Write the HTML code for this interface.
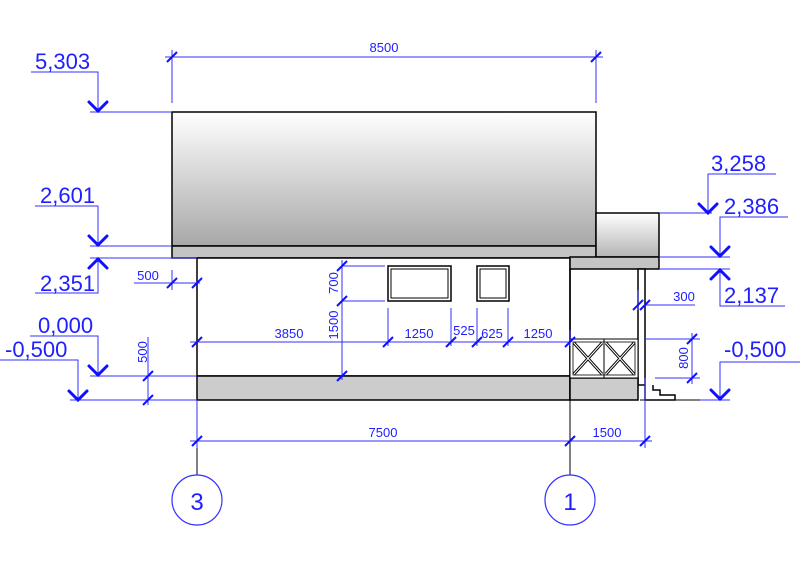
<!DOCTYPE html>
<html><head><meta charset="utf-8"><style>
html,body{margin:0;padding:0;background:#fff;}
svg{display:block;font-family:"Liberation Sans",sans-serif;}
</style></head><body>
<svg width="800" height="565" viewBox="0 0 800 565" xmlns="http://www.w3.org/2000/svg">
<defs>
<linearGradient id="g" x1="0" y1="0" x2="0" y2="1">
<stop offset="0" stop-color="#ffffff"/><stop offset="1" stop-color="#a8a8a8"/>
</linearGradient>
<linearGradient id="g2" x1="0" y1="0" x2="0" y2="1">
<stop offset="0" stop-color="#ffffff"/><stop offset="1" stop-color="#b4b4b4"/>
</linearGradient>
</defs>
<g stroke="#000" stroke-width="1.5">
<rect x="172" y="112" width="424" height="134" fill="url(#g)"/>
<rect x="172" y="246" width="424" height="12" fill="#c4c4c4"/>
<rect x="197" y="258" width="373" height="118" fill="#fff"/>
<rect x="197" y="376" width="373" height="24" fill="#cccccc"/>
<rect x="596" y="213" width="63" height="44" fill="url(#g2)"/>
<rect x="570" y="257" width="89" height="12" fill="#c4c4c4"/>
<line x1="570" y1="269" x2="570" y2="400"/>
<rect x="638" y="269" width="7" height="116" fill="#fff"/>
<rect x="570" y="378" width="68" height="22" fill="#cccccc"/>
<polyline points="645,385 645,400 675,400 675,395 660,395 660,390 653,390 653,385" fill="#fff"/>
<line x1="640" y1="400" x2="700" y2="400" stroke-width="1"/>
<rect x="388" y="266" width="63" height="35" fill="#fff"/>
<rect x="391" y="269" width="57" height="29" fill="#fff" stroke-width="1"/>
<rect x="477" y="266" width="32" height="35" fill="#fff"/>
<rect x="480" y="269" width="26" height="29" fill="#fff" stroke-width="1"/>
<rect x="570" y="339" width="68" height="39" fill="#fff" stroke-width="1"/>
<rect x="573" y="342" width="62" height="33" fill="none" stroke-width="0.8"/>
<line x1="604" y1="339" x2="604" y2="378" stroke-width="1"/>
<g stroke-width="3">
<line x1="574" y1="343" x2="602" y2="374"/><line x1="602" y1="343" x2="574" y2="374"/>
<line x1="606" y1="343" x2="634" y2="374"/><line x1="634" y1="343" x2="606" y2="374"/>
</g>
<g stroke="#fff" stroke-width="1">
<line x1="574" y1="343" x2="602" y2="374"/><line x1="602" y1="343" x2="574" y2="374"/>
<line x1="606" y1="343" x2="634" y2="374"/><line x1="634" y1="343" x2="606" y2="374"/>
</g>
<line x1="197" y1="400" x2="197" y2="475" stroke-width="1"/>
<line x1="570" y1="400" x2="570" y2="475" stroke-width="1"/>
</g>
<g stroke="#3030ff" stroke-width="1" fill="none">
<line x1="172" y1="50" x2="172" y2="103"/><line x1="596" y1="50" x2="596" y2="103"/>
<line x1="165" y1="57" x2="603" y2="57"/>
<line x1="197" y1="400" x2="197" y2="448"/><line x1="645" y1="378" x2="645" y2="448"/>
<line x1="190" y1="441" x2="652" y2="441"/>
<line x1="134" y1="283" x2="200" y2="283"/><line x1="172" y1="270" x2="172" y2="290"/>
<line x1="148" y1="337" x2="148" y2="405"/>
<line x1="90" y1="376" x2="197" y2="376"/><line x1="70" y1="400" x2="197" y2="400"/>
<line x1="190" y1="342" x2="570" y2="342"/>
<line x1="342" y1="260" x2="342" y2="380"/>
<line x1="342" y1="266" x2="385" y2="266"/><line x1="342" y1="301" x2="385" y2="301"/>
<line x1="388" y1="308" x2="388" y2="346"/><line x1="451" y1="308" x2="451" y2="346"/>
<line x1="477" y1="308" x2="477" y2="346"/><line x1="508" y1="308" x2="508" y2="346"/>
<line x1="570" y1="330" x2="570" y2="346"/>
<line x1="645" y1="305" x2="695" y2="305"/><line x1="638" y1="290" x2="638" y2="310"/>
<line x1="645" y1="339" x2="700" y2="339"/><line x1="655" y1="378" x2="700" y2="378"/>
<line x1="692" y1="333" x2="692" y2="384"/>
<polyline points="31,72 98,72 98,111"/><line x1="90" y1="112" x2="172" y2="112"/>
<polyline points="35,206 98,206 98,245"/><line x1="90" y1="246" x2="172" y2="246"/>
<polyline points="35,293 98,293 98,259"/><line x1="90" y1="258" x2="197" y2="258"/>
<polyline points="30,336 98,336 98,375"/>
<polyline points="0,360 78,360 78,400"/>
<polyline points="708,174 776,174 708,174 708,213"/><line x1="659" y1="213" x2="712" y2="213"/>
<polyline points="720,217 788,217 720,217 720,256"/><line x1="659" y1="257" x2="730" y2="257"/>
<polyline points="720,306 785,306 720,306 720,270"/><line x1="659" y1="269" x2="730" y2="269"/>
<polyline points="720,362 800,362 720,362 720,399"/><line x1="700" y1="400" x2="730" y2="400"/>
</g>
<g stroke="#1010ff" stroke-width="2">
<path d="M167 62l10-10M591 62l10-10M192 446l10-10M565 446l10-10M640 446l10-10M167 288l10-10M192 288l10-10M143 381l10-10M143 405l10-10M192 347l10-10M383 347l10-10M446 347l10-10M472 347l10-10M503 347l10-10M565 347l10-10M337 271l10-10M337 306l10-10M337 381l10-10M633 310l10-10M640 310l10-10M687 344l10-10M687 383l10-10"/>
</g>
<g stroke="#1010ff" stroke-width="3" fill="none" stroke-linecap="round">
<polyline points="89,102 98,111 107,102"/>
<polyline points="89,236 98,245 107,236"/>
<polyline points="89,268 98,259 107,268"/>
<polyline points="89,366 98,375 107,366"/>
<polyline points="69,391 78,400 87,391"/>
<polyline points="699,204 708,213 717,204"/>
<polyline points="711,247 720,256 729,247"/>
<polyline points="711,279 720,270 729,279"/>
<polyline points="711,390 720,399 729,390"/>
</g>
<g stroke="#3030ff" stroke-width="1.2" fill="#fff">
<circle cx="197" cy="500" r="25"/><circle cx="570" cy="500" r="25"/>
</g>
<g fill="#2020ff">
<text x="197" y="510" font-size="24" text-anchor="middle">3</text>
<text x="570" y="510" font-size="24" text-anchor="middle">1</text>
<g font-size="22">
<text x="35" y="69">5,303</text>
<text x="40" y="203">2,601</text>
<text x="40" y="291">2,351</text>
<text x="38" y="333">0,000</text>
<text x="5" y="357">-0,500</text>
<text x="711" y="171">3,258</text>
<text x="724" y="214">2,386</text>
<text x="724" y="303">2,137</text>
<text x="724" y="357">-0,500</text>
</g>
<g font-size="13" text-anchor="middle">
<text x="384" y="52">8500</text>
<text x="383" y="437">7500</text>
<text x="607" y="437">1500</text>
<text x="148" y="280">500</text>
<text x="289" y="338">3850</text>
<text x="419" y="338">1250</text>
<text x="464" y="335">525</text>
<text x="492" y="338">625</text>
<text x="538" y="338">1250</text>
<text x="684" y="301">300</text>
<text transform="translate(147,352) rotate(-90)">500</text>
<text transform="translate(338,283) rotate(-90)">700</text>
<text transform="translate(338,325) rotate(-90)">1500</text>
<text transform="translate(688,358) rotate(-90)">800</text>
</g>
</g>
</svg>
</body></html>
